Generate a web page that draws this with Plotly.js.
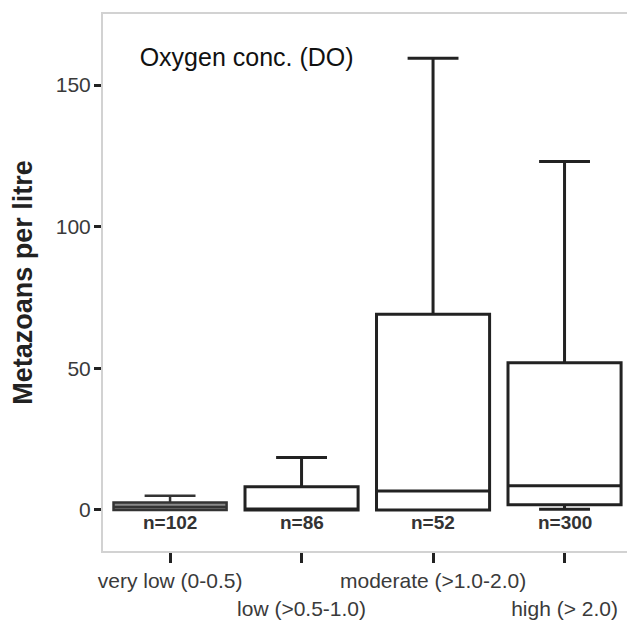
<!DOCTYPE html>
<html>
<head>
<meta charset="utf-8">
<script src="https://cdn.plot.ly/plotly-3.0.1.min.js"></script>
<style>html,body{margin:0;padding:0;background:#fff;}#chart{width:627px;height:622px;}</style>
</head>
<body>
<div id="chart"></div>
<script>
var categories = ["very low (0-0.5)", "low (>0.5-1.0)", "moderate (>1.0-2.0)", "high (> 2.0)"];
var tickLabels = ["very low (0-0.5)", "<br>low (>0.5-1.0)", "moderate (>1.0-2.0)", "<br>high (> 2.0)"];
var lowerFence = [0, 0, 0, 0.2];
var q1 = [0, 0, 0, 1.8];
var median = [1, 0.3, 6.7, 8.5];
var q3 = [2.6, 8.2, 69.1, 52.0];
var upperFence = [5, 18.5, 159.5, 123];
var nLabels = ["n=102", "n=86", "n=52", "n=300"];
var fills = ["#8a8a8a", "#ffffff", "#ffffff", "#ffffff"];

var xs = categories.map(function(c, i){ return i; });

var traces = categories.map(function(c, i){
  return {
    type: 'box',
    x: [i],
    q1: [q1[i]],
    median: [median[i]],
    q3: [q3[i]],
    lowerfence: [lowerFence[i]],
    upperfence: [upperFence[i]],
    width: 0.86,
    whiskerwidth: 0.45,
    fillcolor: fills[i],
    line: {color: i === 0 ? '#333333' : '#222222', width: i === 0 ? 2.5 : 3},
    showlegend: false,
    hoverinfo: 'skip'
  };
});

var annotations = nLabels.map(function(t, i){
  return {
    x: i, y: -4.3, xref: 'x', yref: 'y',
    text: t, showarrow: false,
    font: {family: 'Liberation Sans, Arial, sans-serif', size: 19, color: '#333333', weight: 'bold'},
    xanchor: 'center', yanchor: 'middle'
  };
});

var layout = {
  width: 627, height: 622,
  margin: {l: 103, r: 0, t: 14, b: 71},
  paper_bgcolor: '#ffffff', plot_bgcolor: '#ffffff',
  boxmode: 'overlay',
  title: {
    text: 'Oxygen conc. (DO)',
    font: {family: 'Liberation Sans, Arial, sans-serif', size: 25, color: '#111111'},
    xref: 'paper', yref: 'paper', x: 0.07, xanchor: 'left', y: 0.92, yanchor: 'middle'
  },
  xaxis: {
    range: [-0.51, 3.475],
    tickmode: 'array', tickvals: xs, ticktext: tickLabels,
    tickangle: 0,
    showgrid: false, zeroline: false,
    showline: true, linecolor: '#d2d2d2', linewidth: 2, mirror: true,
    ticks: 'outside', ticklen: 10, tickwidth: 3, tickcolor: '#222222',
    tickfont: {family: 'Liberation Sans, Arial, sans-serif', size: 21, color: '#3a3a3a'},
    fixedrange: true
  },
  yaxis: {
    range: [-14.5, 175.1],
    tickvals: [0, 50, 100, 150],
    showgrid: false, zeroline: false,
    showline: true, linecolor: '#d2d2d2', linewidth: 2,
    ticks: 'outside', ticklen: 7, tickwidth: 3, tickcolor: '#222222',
    ticklabelstandoff: -1,
    tickfont: {family: 'Liberation Sans, Arial, sans-serif', size: 21, color: '#3a3a3a'},
    title: {
      text: 'Metazoans per litre',
      font: {family: 'Liberation Sans, Arial, sans-serif', size: 27, color: '#222222', weight: 'bold'},
      standoff: 15
    },
    fixedrange: true
  },
  annotations: annotations
};

Plotly.newPlot('chart', traces, layout, {displayModeBar: false, staticPlot: true});
</script>
</body>
</html>
